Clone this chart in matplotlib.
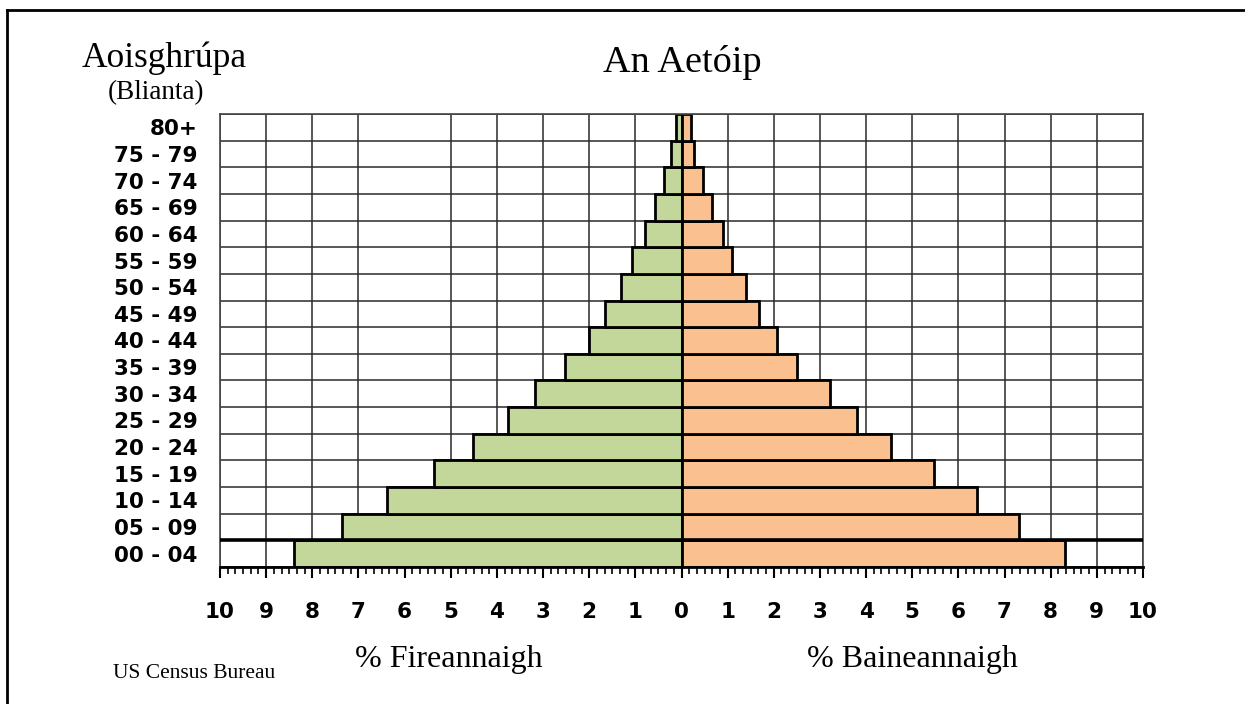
import matplotlib
matplotlib.use("Agg")
import matplotlib.pyplot as plt
from matplotlib.lines import Line2D
import numpy as np

age_groups = ["00 - 04", "05 - 09", "10 - 14", "15 - 19", "20 - 24", "25 - 29",
              "30 - 34", "35 - 39", "40 - 44", "45 - 49", "50 - 54", "55 - 59",
              "60 - 64", "65 - 69", "70 - 74", "75 - 79", "80+"]
males = [8.40, 7.35, 6.38, 5.37, 4.51, 3.76, 3.18, 2.53, 2.01, 1.65, 1.32, 1.07,
         0.80, 0.58, 0.39, 0.22, 0.12]
females = [8.31, 7.32, 6.41, 5.47, 4.55, 3.80, 3.22, 2.50, 2.06, 1.67, 1.39, 1.10,
           0.89, 0.67, 0.46, 0.27, 0.20]
x_ticks = list(range(-10, 11))
x_grid = [v for v in x_ticks if v != -6]  # the source chart skips this gridline

green = "#C4D79B"
orange = "#FAC090"
serif = "Liberation Serif"
bold_sans = "DejaVu Sans"

fig = plt.figure(figsize=(12.45, 7.04), dpi=100)
ax = fig.add_axes([220 / 1245, 1 - 567 / 704, (1143 - 220) / 1245, (567 - 114) / 704])

y = np.arange(len(age_groups))

# grid first, bars over it
for v in x_grid:
    ax.axvline(v, color="#2a2a2a", lw=1.1, zorder=1)
for k in range(len(age_groups) + 1):
    ax.axhline(k - 0.5, color="#2a2a2a", lw=1.1, zorder=1)

ax.barh(y, [-m for m in males], height=1.0, color=green, edgecolor="black", lw=2, zorder=2)
ax.barh(y, females, height=1.0, color=orange, edgecolor="black", lw=2, zorder=2)
ax.axhline(0.5, color="black", lw=2.6, zorder=3)

ax.set_xlim(-10, 10)
ax.set_ylim(-0.5, len(age_groups) - 0.5)

ax.set_xticks(x_ticks)
ax.set_xticklabels([str(abs(v)) for v in x_ticks], fontfamily=bold_sans,
                   fontweight="bold", fontsize=15.5)
ax.set_xticks(np.arange(-10, 10.001, 1 / 6), minor=True)
ax.tick_params(axis="x", which="major", direction="out", length=8, width=1.5, pad=17)
ax.tick_params(axis="x", which="minor", direction="out", length=5, width=1.2)

ax.set_yticks(y)
ax.set_yticklabels(age_groups, fontfamily=bold_sans, fontweight="bold", fontsize=15.5)
ax.tick_params(axis="y", length=0, pad=16)

for s in ["left", "right", "top"]:
    ax.spines[s].set_color("#444444")
    ax.spines[s].set_linewidth(1.2)
ax.spines["bottom"].set_linewidth(2)
ax.spines["bottom"].set_color("black")

# texts
fig.text(682 / 1245, 1 - 62 / 704, "An Aetóip", fontfamily=serif, fontsize=27.5,
         ha="center", va="center")
fig.text(164 / 1245, 1 - 58 / 704, "Aoisghrúpa", fontfamily=serif, fontsize=25.5,
         ha="center", va="center")
fig.text(156 / 1245, 1 - 93 / 704, "(Blianta)", fontfamily=serif, fontsize=19.5,
         ha="center", va="center")
fig.text(449 / 1245, 1 - 659 / 704, "% Fireannaigh", fontfamily=serif, fontsize=23,
         ha="center", va="center")
fig.text(912 / 1245, 1 - 659 / 704, "% Baineannaigh", fontfamily=serif, fontsize=23,
         ha="center", va="center")
fig.text(113 / 1245, 1 - 674 / 704, "US Census Bureau", fontfamily=serif, fontsize=15.5,
         ha="left", va="center")

# outer frame (top and left edges only)
fig.add_artist(Line2D([7 / 1245, 1], [1 - 10 / 704, 1 - 10 / 704], color="black",
                      lw=2, transform=fig.transFigure))
fig.add_artist(Line2D([7 / 1245, 7 / 1245], [0, 1 - 10 / 704], color="black",
                      lw=2, transform=fig.transFigure))

fig.savefig("out.png", dpi=100, facecolor="white")
